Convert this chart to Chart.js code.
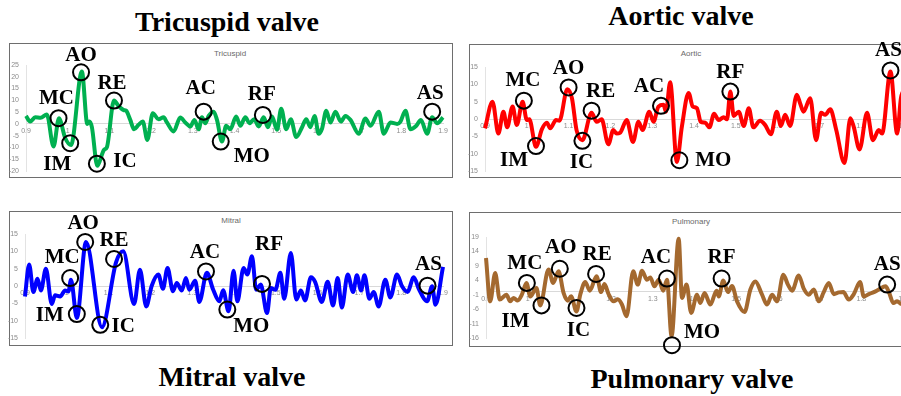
<!DOCTYPE html>
<html>
<head>
<meta charset="utf-8">
<script src="https://cdn.jsdelivr.net/npm/chart.js@4.4.1/dist/chart.umd.min.js"></script>
<style>
  body { margin: 0; background: #fff; }
  #page { position: relative; width: 901px; height: 396px; overflow: hidden; background: #fff; }
  .frame { position: absolute; border: 1.5px solid #6e6e6e; box-sizing: border-box; }
  .big { position: absolute; width: 300px; font: bold 28px "Liberation Serif", "Times New Roman", serif; line-height: 28px; text-align: center; white-space: nowrap; color: #000; }
  .small { position: absolute; width: 100px; font: 8px "Liberation Sans", Arial, sans-serif; line-height: 10px; text-align: center; color: #6a6a6a; }
  canvas { position: absolute; }
</style>
</head>
<body>
<div id="page">
  <div class="frame" style="left:9px;top:43px;width:444px;height:135px"></div>
  <div class="frame" style="left:469px;top:44px;width:450px;height:134px"></div>
  <div class="frame" style="left:9px;top:211px;width:444px;height:135px"></div>
  <div class="frame" style="left:469px;top:212px;width:450px;height:135px"></div>

  <div class="big" style="left:77px;top:8px">Tricuspid valve</div>
  <div class="big" style="left:531px;top:2px">Aortic valve</div>
  <div class="big" style="left:82px;top:363px">Mitral valve</div>
  <div class="big" style="left:542px;top:365px">Pulmonary valve</div>

  <div class="small" style="left:180px;top:49px">Tricuspid</div>
  <div class="small" style="left:641px;top:49px">Aortic</div>
  <div class="small" style="left:181px;top:216px">Mitral</div>
  <div class="small" style="left:641px;top:217px">Pulmonary</div>

  <canvas id="chartTri" width="460" height="160" style="left:0;top:36px;width:460px;height:160px"></canvas>
  <canvas id="chartAor" width="460" height="160" style="left:460px;top:36px;width:460px;height:160px"></canvas>
  <canvas id="chartMit" width="460" height="160" style="left:0;top:200px;width:460px;height:160px"></canvas>
  <canvas id="chartPul" width="460" height="165" style="left:460px;top:200px;width:460px;height:165px"></canvas>
</div>
<script>
const eventNames = ['MC', 'IM', 'AO', 'IC', 'RE', 'AC', 'MO', 'RF', 'AS'];
const xTicks = [0.9, 1.0, 1.1, 1.2, 1.3, 1.4, 1.5, 1.6, 1.7, 1.8, 1.9];

// Tricuspid
const triTime = [0.900, 0.910, 0.922, 0.935, 0.950, 0.966, 0.979, 0.994, 1.008, 1.034,
    1.047, 1.052, 1.058, 1.071, 1.082, 1.087, 1.094, 1.111, 1.122, 1.134,
    1.140, 1.150, 1.159, 1.170, 1.180, 1.191, 1.204, 1.218, 1.230, 1.238,
    1.254, 1.270, 1.282, 1.294, 1.304, 1.314, 1.322, 1.330, 1.338, 1.350,
    1.358, 1.370, 1.380, 1.390, 1.404, 1.414, 1.426, 1.436, 1.447, 1.458,
    1.470, 1.480, 1.490, 1.502, 1.512, 1.524, 1.535, 1.548, 1.562, 1.572,
    1.582, 1.592, 1.602, 1.610, 1.620, 1.630, 1.642, 1.655, 1.666, 1.678,
    1.698, 1.714, 1.726, 1.746, 1.758, 1.774, 1.790, 1.798, 1.810, 1.822,
    1.836, 1.847, 1.862, 1.874, 1.886, 1.900];
const triValue = [3.4, 1.0, 2.8, 2.6, 4.0, -9.6, 2.4, -6.0, -9.0, 22.2,
    0.0, 1.0, -1.4, -17.8, -13.1, -11.0, -9.9, 9.9, 7.6, 5.9,
    5.6, 1.7, -2.3, -0.4, 1.0, -6.8, 4.5, 2.0, 2.8, 0.6,
    -3.2, 2.7, 0.6, -1.1, 1.7, -2.3, 2.8, 0.3, 3.4, 5.2,
    1.7, -7.5, -0.8, -2.3, 3.1, -0.8, 2.8, 0.3, 2.0, -1.1,
    2.8, -1.4, 3.1, -2.5, 6.4, -2.3, 2.0, -5.6, -1.4, 2.0,
    -1.4, 3.4, -4.2, -2.0, 5.6, 0.6, 5.2, 1.0, 3.4, 1.7,
    -4.2, 2.3, -0.8, 5.2, -4.2, 0.6, 0.0, 1.0, 5.6, -2.3,
    -0.8, 1.7, -4.2, 2.8, 0.3, 2.8];
const triEventTime = [0.978, 1.006, 1.032, 1.070, 1.111, 1.326, 1.367, 1.468, 1.874];
const triEventValue = [2.4, -8.2, 21.9, -16.9, 9.9, 5.2, -7.5, 3.8, 5.2];
const triTicks = [-20, -15, -10, -5, 0, 5, 10, 15, 20, 25];

// Aortic
const aorTime = [0.900, 0.918, 0.932, 0.944, 0.953, 0.966, 0.976, 0.990, 1.000, 1.006,
    1.022, 1.036, 1.048, 1.056, 1.070, 1.078, 1.097, 1.108, 1.119, 1.133,
    1.155, 1.167, 1.179, 1.195, 1.207, 1.215, 1.223, 1.239, 1.254, 1.267,
    1.277, 1.293, 1.303, 1.315, 1.327, 1.333, 1.343, 1.359, 1.371, 1.387,
    1.397, 1.407, 1.416, 1.427, 1.437, 1.448, 1.459, 1.471, 1.479, 1.487,
    1.495, 1.507, 1.519, 1.531, 1.542, 1.558, 1.570, 1.584, 1.598, 1.608,
    1.618, 1.630, 1.646, 1.654, 1.662, 1.678, 1.692, 1.704, 1.714, 1.726,
    1.740, 1.760, 1.774, 1.782, 1.796, 1.814, 1.828, 1.842, 1.850, 1.870,
    1.886, 1.895, 1.900];
const aorValue = [-2.7, 5.0, -4.2, 2.1, -2.4, 3.6, -1.7, 5.0, -0.3, -0.1,
    -8.0, -3.0, -1.1, -2.7, -0.3, -0.5, 8.6, 6.0, -3.2, -6.1,
    1.8, -0.8, -0.1, -7.3, -3.2, -4.2, -4.0, -0.3, -6.6, -0.8,
    -3.2, 2.1, -0.8, 3.6, 4.1, 2.1, 10.6, -12.4, -2.2, 7.5,
    3.6, 3.1, -0.8, -1.1, -2.4, 1.5, -0.3, 0.5, -0.1, 7.9,
    0.9, 2.1, -2.0, 3.1, -2.4, -0.5, -1.7, -4.4, 2.1, -2.0,
    1.2, -2.0, 7.0, 4.5, 2.1, 6.0, -6.1, 1.8, 1.2, 2.8,
    -3.0, -12.7, 0.2, -2.2, -8.8, 1.8, -6.1, -3.2, -4.2, 13.7,
    -4.2, 6.0, 8.0];
const aorEventTime = [0.993, 1.022, 1.100, 1.133, 1.155, 1.321, 1.365, 1.487, 1.870];
const aorEventValue = [5.3, -7.8, 9.1, -6.3, 2.4, 3.8, -11.9, 7.9, 14.0];
const aorTicks = [-15, -10, -5, 0, 5, 10, 15];

// Mitral
const mitTime = [0.900, 0.910, 0.920, 0.930, 0.938, 0.950, 0.964, 0.972, 0.984, 0.996,
    1.004, 1.010, 1.024, 1.046, 1.084, 1.118, 1.135, 1.161, 1.175, 1.190,
    1.203, 1.219, 1.230, 1.241, 1.254, 1.263, 1.275, 1.285, 1.293, 1.307,
    1.317, 1.335, 1.350, 1.365, 1.374, 1.387, 1.399, 1.408, 1.423, 1.432,
    1.443, 1.453, 1.464, 1.479, 1.488, 1.499, 1.511, 1.520, 1.536, 1.549,
    1.560, 1.570, 1.584, 1.594, 1.610, 1.624, 1.637, 1.648, 1.658, 1.672,
    1.685, 1.694, 1.704, 1.712, 1.724, 1.734, 1.746, 1.762, 1.774, 1.790,
    1.802, 1.815, 1.830, 1.842, 1.862, 1.874, 1.882, 1.900];
const mitValue = [-3.0, 6.2, -1.7, 2.1, -1.3, 5.0, -5.2, -2.7, -3.0, -1.3,
    -1.6, 1.8, -9.2, 12.7, -11.9, 6.9, 10.0, -5.2, 4.7, -5.9,
    0.0, 3.3, -0.8, 5.2, -1.5, 0.9, -1.3, 2.3, -1.1, 1.5,
    -4.6, 3.8, -1.0, -4.4, -1.2, -7.3, 4.4, -4.4, 5.2, 3.3,
    8.6, -1.1, 0.4, -7.8, -0.6, -1.1, 3.8, -3.7, 9.5, -3.9,
    -1.3, -4.2, 2.5, 1.2, -4.6, 1.2, -5.6, 2.3, -6.2, 3.3,
    -1.7, 3.1, -1.3, 3.1, -3.7, -1.7, -5.9, 1.8, -3.3, 3.3,
    -0.1, -1.7, 2.5, -0.8, -4.4, -0.1, -5.4, 5.5];
const mitEventTime = [1.008, 1.024, 1.044, 1.080, 1.113, 1.333, 1.384, 1.467, 1.863];
const mitEventValue = [2.3, -8.1, 12.7, -11.2, 7.8, 4.2, -6.8, 0.6, 0.1];
const mitTicks = [-15, -10, -5, 0, 5, 10, 15];

// Pulmonary
const pulTime = [0.900, 0.910, 0.922, 0.933, 0.949, 0.958, 0.966, 0.976, 0.986, 0.997,
    1.006, 1.021, 1.030, 1.050, 1.061, 1.074, 1.086, 1.096, 1.104, 1.117,
    1.126, 1.138, 1.149, 1.165, 1.176, 1.184, 1.194, 1.206, 1.216, 1.226,
    1.237, 1.253, 1.264, 1.274, 1.286, 1.294, 1.304, 1.314, 1.325, 1.334,
    1.345, 1.362, 1.370, 1.381, 1.392, 1.406, 1.414, 1.424, 1.438, 1.453,
    1.458, 1.469, 1.480, 1.490, 1.502, 1.520, 1.534, 1.546, 1.562, 1.574,
    1.586, 1.598, 1.613, 1.624, 1.634, 1.650, 1.662, 1.674, 1.686, 1.698,
    1.710, 1.722, 1.734, 1.746, 1.757, 1.770, 1.782, 1.797, 1.806, 1.818,
    1.830, 1.842, 1.858, 1.866, 1.877, 1.886, 1.896, 1.900];
const pulValue = [11.7, -3.3, 6.5, -2.7, -1.0, -3.3, -2.1, -3.0, -1.0, 3.1,
    -1.6, 1.3, -4.7, 7.7, 3.1, 7.1, -0.4, -3.1, -1.5, -6.8,
    -1.0, 3.4, 0.4, 5.4, -0.1, 2.7, -0.8, -3.3, -2.6, -4.4,
    -8.5, 7.1, 2.5, 7.3, 4.2, 5.0, 1.9, 4.2, 0.4, 4.2,
    -15.4, 18.4, -2.1, 2.5, -7.3, -1.0, -3.9, -0.4, -4.4, 0.4,
    -1.6, 3.9, -0.1, 2.0, -3.3, -7.0, 0.8, 3.6, -1.0, -4.4,
    -1.0, -3.3, 5.9, 2.5, 0.4, 5.7, 1.1, -1.0, 0.8, -3.3,
    -0.1, 3.1, -0.8, -0.2, -0.1, -2.7, -0.8, 3.4, -1.6, -0.8,
    -0.1, 0.8, 1.9, 0.0, -3.9, -3.3, -4.2, -4.0];
const pulEventTime = [0.998, 1.033, 1.077, 1.117, 1.164, 1.334, 1.346, 1.465, 1.862];
const pulEventValue = [3.1, -4.7, 8.0, -5.6, 6.2, 4.6, -18.5, 4.6, 2.5];
const pulTicks = [-16, -11, -6, -1, 4, 9, 14, 19];

// where each event label sits relative to its circle (px)
const triLabelOffset = [[-2, -20], [-13, 21], [0, -17], [28, -2], [-2, -17], [-3, -23], [31, 15], [-1, -20], [-2, -18]];
const aorLabelOffset = [[-1, -20], [-22, 15], [0, -19], [-1, 22], [9, -19], [-12, -19], [34, 0], [0, -19], [-2, -20]];
const mitLabelOffset = [[-8, -20], [-27, 1], [-2, -18], [23, 2], [0, -18], [-1, -19], [24, 17], [7, -39], [1, -21]];
const pulLabelOffset = [[-2, -19], [-26, 16], [1, -21], [2, 23], [1, -19], [-11, -21], [30, -13], [0, -21], [0, -20]];

Chart.defaults.font.family = '"Liberation Sans", Arial, sans-serif';

const Y_AXIS_WIDTH = 22;

function makeChart(id, s) {
    // circles + event names, placed through the chart's own scales
    const marks = {
        id: 'marks',
        afterDatasetsDraw(chart) {
            const { ctx, scales: { x, y } } = chart;
            ctx.save();
            ctx.strokeStyle = '#000';
            ctx.lineWidth = 2;
            ctx.fillStyle = '#000';
            ctx.font = 'bold 21px "Liberation Serif", "Times New Roman", serif';
            ctx.textAlign = 'center';
            ctx.textBaseline = 'middle';
            s.eventTime.forEach((t, i) => {
                const px = x.getPixelForValue(t);
                const py = y.getPixelForValue(s.eventValue[i]);
                ctx.beginPath();
                ctx.arc(px, py, 8, 0, Math.PI * 2);
                ctx.stroke();
                ctx.fillText(eventNames[i], px + s.offsets[i][0], py + s.offsets[i][1]);
            });
            ctx.restore();
        }
    };

    const tickStyle = { font: { size: 7 }, color: '#8c8c8c' };
    const pad = Object.assign({}, s.padding, { left: s.padding.left - Y_AXIS_WIDTH });

    new Chart(document.getElementById(id), {
        type: 'line',
        data: {
            datasets: [{
                data: s.time.map((t, i) => ({ x: t, y: s.value[i] })),
                borderColor: s.color,
                borderWidth: 4,
                pointRadius: 0,
                cubicInterpolationMode: 'monotone',
                fill: false,
                clip: false
            }]
        },
        options: {
            responsive: false,
            animation: false,
            events: [],
            layout: { padding: pad },
            plugins: { legend: { display: false }, tooltip: { enabled: false } },
            scales: {
                x: {
                    type: 'linear',
                    position: { y: 0 },
                    min: 0.9,
                    max: 1.9,
                    afterBuildTicks: sc => { sc.ticks = xTicks.map(v => ({ value: v })); },
                    grid: { display: false, drawTicks: false },
                    border: { color: '#d9d9d9', width: 1 },
                    ticks: { ...tickStyle, autoSkip: false, maxRotation: 0, padding: 3,
                        callback: v => String(+v.toFixed(2)) }
                },
                y: {
                    min: s.yTicks[0],
                    max: s.yTicks[s.yTicks.length - 1],
                    afterBuildTicks: sc => { sc.ticks = s.yTicks.map(v => ({ value: v })); },
                    afterFit: sc => { sc.width = Y_AXIS_WIDTH; },
                    grid: { display: false, drawTicks: false },
                    border: { color: '#e3e3e3', width: 1 },
                    ticks: { ...tickStyle, autoSkip: false, padding: 7 }
                }
            }
        },
        plugins: [marks]
    });
}

makeChart('chartTri', { time: triTime, value: triValue, eventTime: triEventTime, eventValue: triEventValue,
    yTicks: triTicks, offsets: triLabelOffset, color: '#00b050',
    padding: { left: 26, right: 17, top: 29, bottom: 25 } });
makeChart('chartAor', { time: aorTime, value: aorValue, eventTime: aorEventTime, eventValue: aorEventValue,
    yTicks: aorTicks, offsets: aorLabelOffset, color: '#ff0000',
    padding: { left: 25, right: 17, top: 31, bottom: 25 } });
makeChart('chartMit', { time: mitTime, value: mitValue, eventTime: mitEventTime, eventValue: mitEventValue,
    yTicks: mitTicks, offsets: mitLabelOffset, color: '#0000ff',
    padding: { left: 25, right: 17, top: 34, bottom: 22 } });
makeChart('chartPul', { time: pulTime, value: pulValue, eventTime: pulEventTime, eventValue: pulEventValue,
    yTicks: pulTicks, offsets: pulLabelOffset, color: '#a4692f',
    padding: { left: 26, right: 17, top: 37, bottom: 27 } });
</script>
</body>
</html>
